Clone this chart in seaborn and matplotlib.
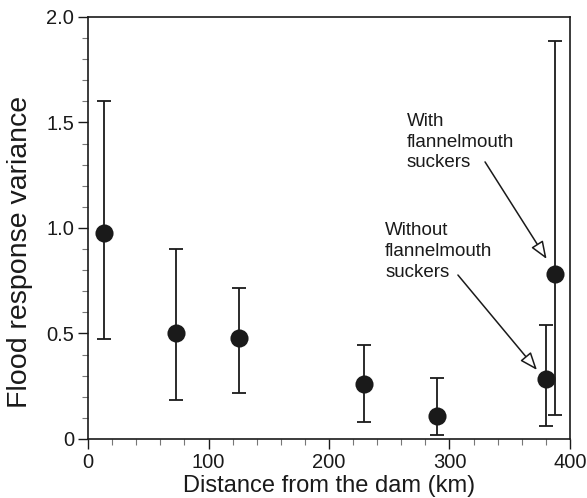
import matplotlib
matplotlib.use("Agg")
import matplotlib.pyplot as plt
from matplotlib.ticker import MultipleLocator, FuncFormatter
import seaborn as sns
import pandas as pd

# Distance downstream of the dam (km), flood-response variance and its interval
distance_km = [13, 73, 125, 229, 290, 380, 387.5]
variance = [0.976, 0.500, 0.477, 0.262, 0.109, 0.283, 0.782]
ci_low = [0.474, 0.185, 0.216, 0.082, 0.020, 0.063, 0.115]
ci_high = [1.600, 0.900, 0.717, 0.444, 0.289, 0.539, 1.886]

x_ticks = [0, 100, 200, 300, 400]
y_ticks = [0, 0.5, 1.0, 1.5, 2.0]

df = pd.DataFrame({"distance": distance_km, "variance": variance,
                   "low": ci_low, "high": ci_high})

sns.set_theme(style="ticks")
plt.rcParams["font.family"] = ["Liberation Sans", "DejaVu Sans"]

fig = plt.figure(figsize=(5.87, 4.98), dpi=100)
ax = fig.add_axes([0.150, 0.1185, 0.821, 0.8475])

ax.errorbar(df["distance"], df["variance"],
            yerr=[df["variance"] - df["low"], df["high"] - df["variance"]],
            fmt="none", ecolor="#1a1a1a", elinewidth=1.3, capsize=4.8,
            capthick=1.3, zorder=2)
sns.scatterplot(data=df, x="distance", y="variance", ax=ax, s=170,
                color="#1a1a1a", edgecolor="#1a1a1a", linewidth=0, zorder=3)

ax.set_xlim(0, 400)
ax.set_ylim(0, 2.0)
ax.set_xticks(x_ticks)
ax.set_yticks(y_ticks)
ax.xaxis.set_minor_locator(MultipleLocator(20))
ax.yaxis.set_minor_locator(MultipleLocator(0.1))
ax.xaxis.set_major_formatter(FuncFormatter(lambda v, p: f"{v:g}"))
ax.yaxis.set_major_formatter(FuncFormatter(lambda v, p: "0" if v == 0 else f"{v:.1f}"))
ax.tick_params(which="major", direction="out", length=7, width=1.0,
               labelsize=14.5, colors="#1a1a1a", pad=3)
ax.tick_params(which="minor", direction="out", length=4, width=0.8,
               colors="#777777")
ax.tick_params(axis="both", labelcolor="#1a1a1a")
for side in ["left", "bottom", "top", "right"]:
    ax.spines[side].set_visible(True)
    ax.spines[side].set_color("#1a1a1a")
    ax.spines[side].set_linewidth(1.2)

ax.set_xlabel("Distance from the dam (km)", fontsize=17, color="#1a1a1a")
ax.set_ylabel("Flood response variance", fontsize=20.5, color="#1a1a1a")
ax.xaxis.set_label_coords(0.5, -0.085)
ax.yaxis.set_label_coords(-0.114, 0.443)

# Callout labels with open-headed arrows pointing at the two sites near 380 km
arrow = dict(arrowstyle="-|>,head_length=0.9,head_width=0.35",
             edgecolor="#1a1a1a", facecolor="white",
             lw=1.1, shrinkA=0, shrinkB=0)
ax.text(264.7, 1.545, "With\nflannelmouth\nsuckers", fontsize=13.5,
        va="top", ha="left", linespacing=1.29, color="#1a1a1a")
ax.annotate("", xy=(380.6, 0.853), xytext=(329.5, 1.313), arrowprops=arrow)
ax.text(246.5, 1.027, "Without\nflannelmouth\nsuckers", fontsize=13.5,
        va="top", ha="left", linespacing=1.29, color="#1a1a1a")
ax.annotate("", xy=(372.6, 0.327), xytext=(307.0, 0.777), arrowprops=arrow)

fig.savefig("out.png", dpi=100)
